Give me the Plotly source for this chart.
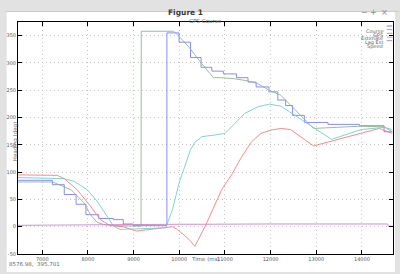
import plotly.graph_objects as go

# ---------------- data ----------------
course_t = [6468, 7222, 7481, 7740, 7955, 8235, 8559, 8774, 8990, 9729, 9996, 10246, 10477,
            10714, 10966, 11253, 11505, 11684, 11964, 12158, 12330, 12481, 12740, 13257,
            13947, 14485, 14669]
course_v = [85, 77, 59, 41, 22, 15, 13, 5, 2, 355, 338, 310, 292, 285, 280, 273, 265, 256,
            247, 232, 222, 204, 191, 187.5, 185, 174, 174]

gps_t = [6468, 7222, 7625, 7912, 8056, 8199, 8343, 8559, 9162, 9168, 9873, 9923, 10212,
         10498, 10750, 10929, 11216, 11505, 11720, 11970, 12222, 12940, 13947, 14485, 14664]
gps_v = [82, 82, 68, 44, 22, 8, 4, 2, 1, 358, 358, 355, 329, 298, 273, 273, 271, 267, 262,
         250, 241, 180, 184, 183, 174]

est_t = [6468, 6942, 7330, 7481, 7761, 8056, 8272, 8487, 8774, 9061, 9421, 9852, 9959,
         10212, 10341, 10569, 10929, 11145, 11360, 11576, 11791, 12007, 12222, 12438,
         12940, 13983, 14377, 14664]
est_v = [95, 94, 94, 88, 68, 37.5, 13, 2, 0, -8, -4, 0, -5, -23, -36, 1, 68, 95, 127, 155,
         171, 177, 180, 178, 148, 171, 180, 171]

lag_t = [6468, 7481, 7697, 7983, 8199, 8414, 8559, 8703, 9205, 9701, 9744, 9852, 9996,
         10138, 10246, 10347, 10498, 10785, 11000, 11216, 11431, 11720, 11970, 12222,
         13337, 13983, 14485, 14664]
lag_v = [90, 88, 83, 68, 47, 19, 1, -5, -3, -2, 7, 31.5, 80, 116.5, 141, 155, 165, 168,
         171, 189, 207.5, 219.5, 224.5, 221, 160, 178, 182, 178]

speed_t = [6468, 7000, 7500, 8000, 8500, 9000, 9500, 10000, 10500, 11000, 11500, 12000,
           12500, 13000, 13500, 14000, 14400, 14560, 14580, 14664]
speed_v = [2.5, 3, 3, 3.5, 3.5, 4, 4, 4.5, 4.5, 5, 4.5, 5, 5, 5.5, 5, 5, 5.5, 5, 1, 1]

series_names = ["Course", "GPS", "Estimate", "Lag Est", "Speed"]
series_colors = ["#7d7dff", "#8cb88c", "#ff7b7b", "#6fcfcf", "#cc80cc"]

x_ticks = [7000, 8000, 9000, 10000, 11000, 12000, 13000, 14000]
y_ticks = [-50, 0, 50, 100, 150, 200, 250, 300, 350]

# ---------------- layout geometry ----------------
W, H = 400, 274
ML, MR, MT, MB = 13, 6, 22, 20
PW = W - ML - MR
PH = H - MT - MB


def px(x):
    return (x - ML) / PW


def py(y):
    return (H - MB - y) / PH


fig = go.Figure()
data = [(course_t, course_v, "hv"), (gps_t, gps_v, "linear"), (est_t, est_v, "linear"),
        (lag_t, lag_v, "linear"), (speed_t, speed_v, "linear")]
for (t, v, shape), name, col in zip(data, series_names, series_colors):
    fig.add_trace(go.Scatter(x=t, y=v, mode="lines", name=name,
                             line=dict(color=col, width=0.9, shape=shape),
                             showlegend=False))

shapes = []
annotations = []

# window chrome
shapes.append(dict(type="rect", xref="paper", yref="paper", layer="below",
                   x0=px(1.5), x1=px(396), y0=py(272), y1=py(12),
                   fillcolor="white", line=dict(width=0)))
shapes.append(dict(type="line", xref="paper", yref="paper",
                   x0=px(0), x1=px(400), y0=py(11.5), y1=py(11.5),
                   line=dict(color="#cccccc", width=1)))
annotations.append(dict(text="<b>Figure 1</b>", xref="paper", yref="paper",
                        x=px(183), y=py(6.3), showarrow=False,
                        font=dict(family="DejaVu Sans", size=7.5, color="#3a3a3a")))
for sym, xx in [("\u2212", 371), ("+", 380), ("\u00d7", 391)]:
    annotations.append(dict(text=sym, xref="paper", yref="paper", x=px(xx), y=py(6),
                            showarrow=False,
                            font=dict(family="DejaVu Sans", size=8, color="#8a8a8a")))

# titles
annotations.append(dict(text="GPS Course", xref="paper", yref="paper",
                        x=px(203.5), y=py(16), showarrow=False,
                        font=dict(family="DejaVu Sans", size=5.5, color="#666666")))
annotations.append(dict(text="Time (ms)", xref="paper", yref="paper",
                        x=px(203), y=py(264), showarrow=False,
                        font=dict(family="DejaVu Sans", size=5.5, color="#666666")))
annotations.append(dict(text="Heading (deg)", xref="paper", yref="paper",
                        x=px(4.5), y=py(142), showarrow=False, textangle=-90,
                        font=dict(family="DejaVu Sans", size=5.5, color="#666666")))
annotations.append(dict(text="8576.98,  395.701", xref="paper", yref="paper",
                        x=px(2), y=py(269), showarrow=False, xanchor="left",
                        font=dict(family="DejaVu Sans", size=5.5, color="#666666")))

# manual legend (entries overlap tightly, as in the original)
leg_y = [26, 29.6, 33.3, 37.2, 40.7]
for name, col, yy in zip(series_names, series_colors, leg_y):
    annotations.append(dict(text=name, xref="paper", yref="paper", x=px(386), y=py(yy),
                            xanchor="right", showarrow=False,
                            font=dict(family="DejaVu Sans", size=5, color="#666666")))
    shapes.append(dict(type="line", xref="paper", yref="paper",
                       x0=px(387.7), x1=px(393.3), y0=py(yy), y1=py(yy),
                       line=dict(color=col, width=1)))

axis_common = dict(showline=True, linecolor="black", linewidth=1, mirror="ticks",
                   ticks="inside", ticklen=4, tickwidth=1, tickcolor="black",
                   showgrid=True, gridcolor="#c4c4c4", griddash="1px,3px", gridwidth=1,
                   zeroline=False,
                   tickfont=dict(family="DejaVu Sans", size=5, color="#555555"))

fig.update_layout(
    width=W, height=H,
    margin=dict(l=ML, r=MR, t=MT, b=MB, pad=0),
    paper_bgcolor="#e2e2e2",
    plot_bgcolor="rgba(0,0,0,0)",
    xaxis=dict(range=[6468, 14681], tickvals=x_ticks,
               ticktext=[str(v) for v in x_ticks], **axis_common),
    yaxis=dict(range=[-50, 375], tickvals=y_ticks,
               ticktext=[str(v) for v in y_ticks], **axis_common),
    shapes=shapes,
    annotations=annotations,
    showlegend=False,
)

fig.write_html("out.html")
